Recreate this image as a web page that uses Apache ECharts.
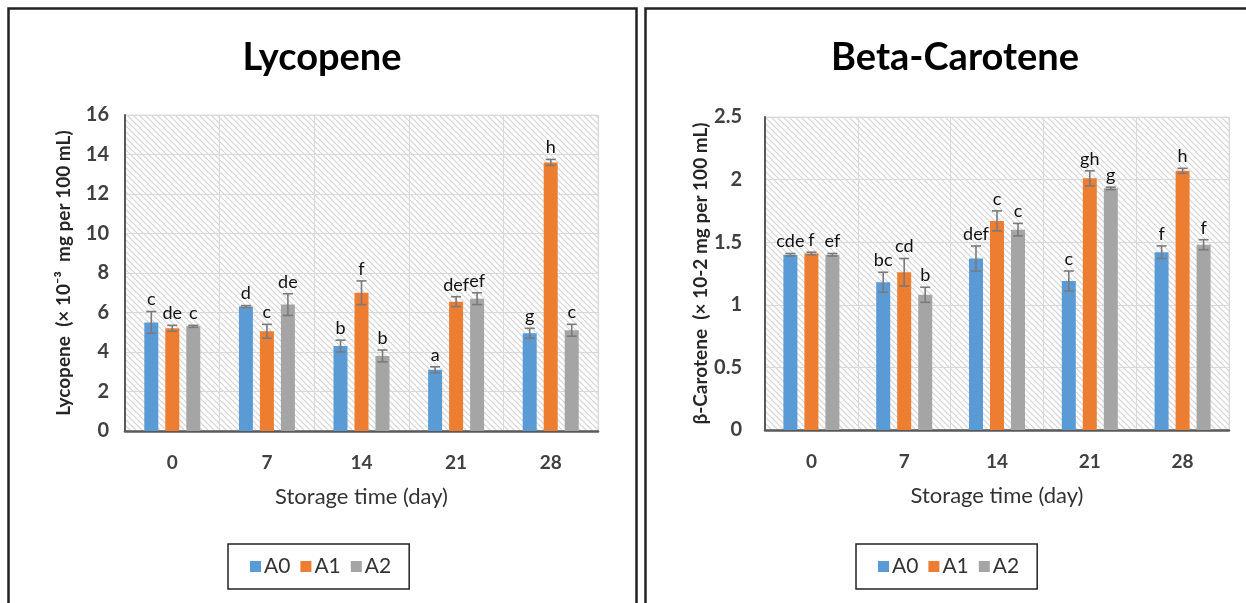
<!DOCTYPE html>
<html>
<head>
<meta charset="utf-8">
<script src="https://cdn.jsdelivr.net/npm/echarts@6/dist/echarts.min.js"></script>
<style>
html,body{margin:0;padding:0;background:#fff;}
#c{width:1246px;height:603px;}
</style>
</head>
<body>
<div id="c"></div>
<script>
// ---------- DATA ----------
var days = ['0', '7', '14', '21', '28'];
var seriesNames = ['A0', 'A1', 'A2'];

var lycA0 = [5.5, 6.3, 4.3, 3.1, 4.95];
var lycA1 = [5.2, 5.05, 7.0, 6.55, 13.6];
var lycA2 = [5.3, 6.4, 3.8, 6.7, 5.1];
var lycA0Err = [0.55, 0.05, 0.3, 0.15, 0.25];
var lycA1Err = [0.15, 0.35, 0.6, 0.25, 0.15];
var lycA2Err = [0.05, 0.55, 0.3, 0.3, 0.3];
var lycA0Let = ['c', 'd', 'b', 'a', 'g'];
var lycA1Let = ['de', 'c', 'f', 'def', 'h'];
var lycA2Let = ['c', 'de', 'b', 'ef', 'c'];
var lycTicks = [0, 2, 4, 6, 8, 10, 12, 14, 16];

var betA0 = [1.40, 1.18, 1.37, 1.19, 1.42];
var betA1 = [1.41, 1.26, 1.67, 2.01, 2.07];
var betA2 = [1.40, 1.08, 1.60, 1.93, 1.48];
var betA0Err = [0.01, 0.08, 0.10, 0.08, 0.05];
var betA1Err = [0.01, 0.11, 0.08, 0.06, 0.02];
var betA2Err = [0.01, 0.06, 0.05, 0.01, 0.04];
var betA0Let = ['cde', 'bc', 'def', 'c', 'f'];
var betA1Let = ['f', 'cd', 'c', 'gh', 'h'];
var betA2Let = ['ef', 'b', 'c', 'g', 'f'];
var betTicks = [0, 0.5, 1, 1.5, 2, 2.5];

// ---------- STYLE ----------
var colors = ['#5B9BD5', '#ED7D31', '#A5A5A5'];
var FONT = 'Lato, "Open Sans", sans-serif';
var BAR_W = 14, BAR_GAP = 7;

function hatch() {
  var s = 6;
  var cv = document.createElement('canvas');
  cv.width = s; cv.height = s;
  var ctx = cv.getContext('2d');
  ctx.fillStyle = '#ffffff';
  ctx.fillRect(0, 0, s, s);
  ctx.strokeStyle = '#d4d4d4';
  ctx.lineWidth = 1.2;
  ctx.beginPath();
  ctx.moveTo(-1, -1); ctx.lineTo(s + 1, s + 1);
  ctx.moveTo(-1, s - 1); ctx.lineTo(1, s + 1);
  ctx.moveTo(s - 1, -1); ctx.lineTo(s + 1, 1);
  ctx.stroke();
  return cv;
}
var pattern = { image: hatch(), repeat: 'repeat' };

var chart = echarts.init(document.getElementById('c'), null, { renderer: 'canvas' });

function makeGrid(g) {
  return Object.assign({
    show: true,
    backgroundColor: pattern,
    borderColor: '#e0e0e0',
    borderWidth: 1,
    containLabel: false
  }, g);
}

function xAx(gi) {
  return {
    type: 'category', gridIndex: gi, data: days,
    name: 'Storage time (day)', nameLocation: 'middle', nameGap: 55,
    nameTextStyle: { fontFamily: FONT, fontSize: 22, color: '#333' },
    axisLine: { lineStyle: { color: '#595959', width: 2.5 } },
    axisTick: { show: false },
    axisLabel: { margin: 22, fontFamily: FONT, fontSize: 19, fontWeight: 'bold', color: '#404040' },
    splitLine: { show: true, lineStyle: { color: '#d9d9d9', width: 1 } }
  };
}

function yAx(gi, name, max, interval, gap) {
  return {
    type: 'value', gridIndex: gi, min: 0, max: max, interval: interval,
    name: name, nameLocation: 'middle', nameGap: gap,
    nameTextStyle: { fontFamily: FONT, fontSize: 19, fontWeight: 'bold', color: '#262626', padding: [0, 0, 0, 0] },
    axisLine: { show: true, lineStyle: { color: '#595959', width: 2 } },
    axisTick: { show: false },
    axisLabel: { margin: gi === 0 ? 16 : 23, fontFamily: FONT, fontSize: 20, fontWeight: 'bold', color: '#404040' },
    splitLine: { show: true, lineStyle: { color: '#d9d9d9', width: 1 } }
  };
}

function errSeries(gi, idx, vals, errs, lets) {
  var data = vals.map(function (v, i) { return [i, v, errs[i], lets[i]]; });
  return {
    type: 'custom', xAxisIndex: gi, yAxisIndex: gi, z: 5,
    data: data,
    encode: { x: 0, y: 1 },
    renderItem: function (params, api) {
      var ci = api.value(0), v = api.value(1), e = api.value(2);
      var lab = data[params.dataIndex][3];
      var off = (idx - 1) * (BAR_W + BAR_GAP);
      var top = api.coord([ci, v + e]);
      var bot = api.coord([ci, Math.max(0, v - e)]);
      var x = top[0] + off;
      var cap = 5;
      var st = { stroke: '#7a7a7a', lineWidth: 1.6 };
      return {
        type: 'group',
        children: [
          { type: 'line', shape: { x1: x, y1: top[1], x2: x, y2: bot[1] }, style: st },
          { type: 'line', shape: { x1: x - cap, y1: top[1], x2: x + cap, y2: top[1] }, style: st },
          { type: 'line', shape: { x1: x - cap, y1: bot[1], x2: x + cap, y2: bot[1] }, style: st },
          { type: 'text', x: x, y: top[1] - 3,
            style: { text: lab, fill: '#111', font: '18px ' + FONT, textAlign: 'center', textVerticalAlign: 'bottom' } }
        ]
      };
    }
  };
}

function barSeries(gi, idx, vals) {
  return {
    type: 'bar', name: seriesNames[idx], xAxisIndex: gi, yAxisIndex: gi,
    data: vals, barWidth: BAR_W, barGap: '50%',
    itemStyle: { color: colors[idx] }
  };
}

var legendCommon = {
  data: seriesNames, icon: 'rect', itemWidth: 11, itemHeight: 11, itemGap: 10,
  borderColor: '#222', borderWidth: 1.5, padding: [12, 18, 12, 22],
  textStyle: { fontFamily: FONT, fontSize: 21, color: '#333', padding: [0, 0, 0, -2] },
  selectedMode: false
};

var option = {
  animation: false,
  color: colors,
  title: [
    { text: 'Lycopene', left: 317, top: 34, textAlign: 'center',
      textStyle: { fontFamily: FONT, fontSize: 38, fontWeight: 'bold', color: '#000' } },
    { text: 'Beta-Carotene', left: 950, top: 34, textAlign: 'center',
      textStyle: { fontFamily: FONT, fontSize: 38, fontWeight: 'bold', color: '#000' } }
  ],
  legend: [
    Object.assign({}, legendCommon, { left: 228, top: 544 }),
    Object.assign({}, legendCommon, { left: 856, top: 544 })
  ],
  grid: [
    makeGrid({ left: 125, top: 115, width: 473, height: 316 }),
    makeGrid({ left: 765, top: 117, width: 464, height: 313 })
  ],
  xAxis: [xAx(0), xAx(1)],
  yAxis: [
    yAx(0, 'Lycopene  (\u00d7 10\u207b\u00b3  mg per 100 mL)', lycTicks[lycTicks.length - 1], lycTicks[1] - lycTicks[0], 52),
    yAx(1, '\u03b2-Carotene  (\u00d7 10-2 mg per 100 mL)', betTicks[betTicks.length - 1], betTicks[1] - betTicks[0], 55)
  ],
  graphic: [
    { type: 'rect', shape: { x: 8.5, y: 8.5, width: 628, height: 620 },
      style: { fill: 'none', stroke: '#222', lineWidth: 2.5 }, silent: true, z: 100 },
    { type: 'rect', shape: { x: 645.5, y: 8.5, width: 620, height: 620 },
      style: { fill: 'none', stroke: '#222', lineWidth: 2.5 }, silent: true, z: 100 }
  ],
  series: [
    barSeries(0, 0, lycA0), barSeries(0, 1, lycA1), barSeries(0, 2, lycA2),
    errSeries(0, 0, lycA0, lycA0Err, lycA0Let),
    errSeries(0, 1, lycA1, lycA1Err, lycA1Let),
    errSeries(0, 2, lycA2, lycA2Err, lycA2Let),
    barSeries(1, 0, betA0), barSeries(1, 1, betA1), barSeries(1, 2, betA2),
    errSeries(1, 0, betA0, betA0Err, betA0Let),
    errSeries(1, 1, betA1, betA1Err, betA1Let),
    errSeries(1, 2, betA2, betA2Err, betA2Let)
  ]
};
chart.setOption(option);
</script>
</body>
</html>
